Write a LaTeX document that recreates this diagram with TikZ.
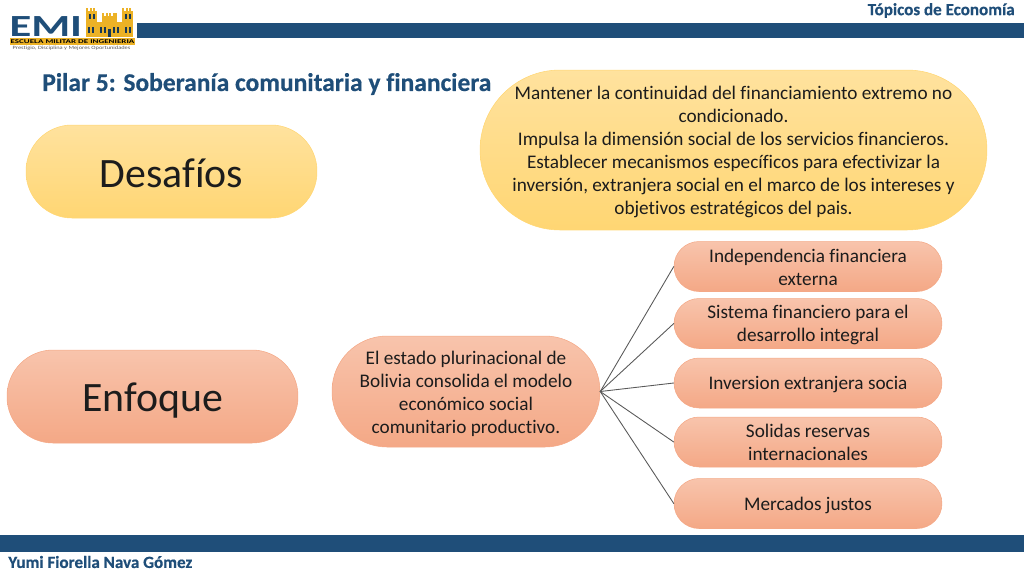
\documentclass[tikz,border=0pt]{standalone}
\usepackage{fontspec}
\setmainfont{Carlito}[Ligatures=NoCommon]
\definecolor{barblue}{RGB}{31,78,121}
\definecolor{castleyellow}{RGB}{236,178,38}
\definecolor{yellowtop}{RGB}{255,226,158}
\definecolor{yellowbot}{RGB}{255,214,115}
\definecolor{salmontop}{RGB}{248,196,172}
\definecolor{salmonbot}{RGB}{244,168,134}
\definecolor{inktext}{RGB}{28,28,28}
\newcommand{\lowered}[2][1.1pt]{\raisebox{-#1}[\height][\depth]{\begin{tabular}{@{}c@{}}#2\end{tabular}}}
\begin{document}
\begin{tikzpicture}[x=0.02cm,y=-0.02cm,line join=round,line cap=round]
				\tikzset{
					yellowbox/.style={draw=yellowbot,line width=0.3pt,top color=yellowtop,bottom color=yellowbot,align=center,text=inktext,inner sep=0pt},
					salmonbox/.style={draw=salmonbot,line width=0.3pt,top color=salmontop,bottom color=salmonbot,align=center,text=inktext,inner sep=0pt},
					bigbox/.style={rounded corners=0.92cm,minimum width=5.82cm,minimum height=1.86cm,font=\fontsize{23.8}{26}\selectfont},
					bodytext/.style={font=\fontsize{10.95}{13.1}\selectfont},
					smallbox/.style={salmonbox,bodytext,rounded corners=0.5cm,minimum width=5.36cm,minimum height=1.0cm},
					heading/.style={text=barblue,inner sep=0pt},
					link/.style={draw=black!65,line width=0.5pt}
				}
				\useasboundingbox (0,0) rectangle (1024,576);
				% bars
				\fill[barblue] (137,23) rectangle (1024,38);
				\fill[barblue] (0,535) rectangle (1024,552);
				% logo
				\node[anchor=west,inner sep=0pt,text=barblue,xscale=1.45] (emi) at (9,26.5) {\fontsize{17.5}{17.5}\selectfont\bfseries EMI};
				\fill[castleyellow] (86,11) rectangle (97,37);
				\fill[castleyellow] (122,11) rectangle (133,37);
				\fill[castleyellow] (97,22) rectangle (122,37);
				\fill[castleyellow] (102,16) rectangle (117,24);
				\foreach \x in {86,89.5,93,122,125.5,129}
				\fill[castleyellow] (\x,7.5) rectangle +(2.2,4);
				\foreach \x in {102,105.5,109,112.5,115}
				\fill[castleyellow] (\x,13) rectangle +(2,3);
				\foreach \x in {89,93,125,129}
				\fill[barblue!70!black] (\x,14) rectangle +(2,5);
				\foreach \x in {88,92,100,104,113,117,125,129}
				\fill[barblue!70!black] (\x,27) rectangle +(2,6);
				\fill[barblue!70!black] (108,29) rectangle (111,37);
				\fill[castleyellow] (10,38) rectangle (135,44.5);
				\node[inner sep=0pt,text=black,xscale=1.55] (school) at (72.5,41.2) {\fontsize{3.3}{3.3}\selectfont\bfseries ESCUELA MILITAR DE INGENIERIA};
				\node[inner sep=0pt,text=black!65,xscale=1.3] (motto) at (71.5,48) {\fontsize{2.8}{2.8}\selectfont Prestigio, Disciplina y Mejores Oportunidades};
				% headings
				\node[heading,anchor=east,font=\bfseries\fontsize{9.7}{11}\selectfont\addfontfeature{FakeBold=0.5}] (course) at (1015,10.5) {Tópicos de Economía};
				\node[heading,anchor=west,font=\bfseries\fontsize{14.5}{16}\selectfont\addfontfeature{FakeBold=0.5}] (title) at (42,84) {Pilar 5: Soberanía comunitaria y financiera};
				\node[heading,anchor=west,font=\bfseries\fontsize{9.7}{11}\selectfont\addfontfeature{FakeBold=0.5}] (presenter) at (8,562) {Yumi Fiorella Nava Gómez};
				% left column
				\node[yellowbox,bigbox] (desafios) at (171.5,171.5) {\raisebox{-0.8pt}[\height][\depth]{Desafíos}};
				\node[salmonbox,bigbox] (enfoque) at (152.5,396.5) {\raisebox{-2.4pt}[\height][\depth]{Enfoque}};
				% boxes with text
				\node[yellowbox,bodytext,rounded corners=1.6cm,minimum width=10.14cm,minimum height=3.2cm] (mantener) at (733.5,150) {\lowered{Mantener la continuidad del financiamiento extremo no\\condicionado.\\Impulsa la dimensión social de los servicios financieros.\\Establecer mecanismos específicos para efectivizar la\\inversión, extranjera social en el marco de los intereses y\\objetivos estratégicos del pais.}};
				\node[salmonbox,bodytext,rounded corners=1.1cm,minimum width=5.36cm,minimum height=2.22cm] (estado) at (466,391.5) {\lowered[1.6pt]{El estado plurinacional de\\Bolivia consolida el modelo\\económico social\\comunitario productivo.}};
				% right column
				\node[smallbox] (indep) at (808,266.5) {\lowered[1.6pt]{Independencia financiera\\externa}};
				\node[smallbox] (sistema) at (808,323.5) {\lowered[1.2pt]{Sistema financiero para el\\desarrollo integral}};
				\node[smallbox] (inversion) at (808,383) {\lowered{Inversion extranjera socia}};
				\node[smallbox] (solidas) at (808,442) {\lowered[1.4pt]{Solidas reservas\\internacionales}};
				\node[smallbox] (mercados) at (808,503.5) {\lowered{Mercados justos}};
				\foreach \n in {indep,sistema,inversion,solidas,mercados}
				\draw[link] (estado.east)--(\n.west);
\end{tikzpicture}
\end{document}
